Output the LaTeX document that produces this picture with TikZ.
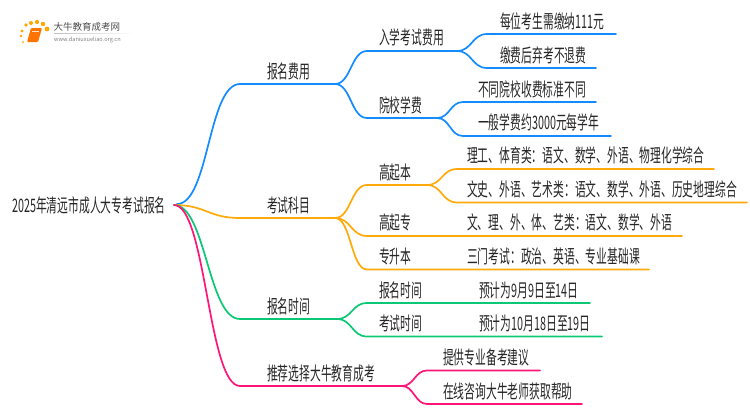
\documentclass[tikz,border=0pt]{standalone}
\usepackage{fontspec}
\setmainfont[FakeStretch=0.58]{Noto Sans CJK SC}
\newfontfamily\logofont{Noto Sans CJK SC}
\newcommand{\unitsize}{1pt}
\definecolor{limbblue}{RGB}{20,140,255}
\definecolor{limborange}{RGB}{255,170,10}
\definecolor{limbgreen}{RGB}{10,200,115}
\definecolor{limbpink}{RGB}{255,20,120}

\begin{document}
\begin{tikzpicture}
\useasboundingbox (0*\unitsize,0*\unitsize) rectangle (750*\unitsize,-410*\unitsize);
\tikzstyle{every node}=[inner sep=0pt,
			anchor=west,
			text=black!85,
			font=\fontsize{18.6}{19}\selectfont,
			text height=14pt,
			text depth=0pt
			]
\tikzstyle{limb}=[line width=1.7pt, line cap=round, out=0, in=180]
\tikzstyle{bluelimb}=[limb, limbblue]
\tikzstyle{orangelimb}=[limb, limborange]
\tikzstyle{greenlimb}=[limb, limbgreen]
\tikzstyle{pinklimb}=[limb, limbpink]
\tikzstyle{logotext}=[font=\logofont\fontsize{9.5}{10}\selectfont, text=black!70, text height=8pt, text depth=2pt]
\tikzstyle{logourl}=[font=\logofont\fontsize{5.6}{6}\selectfont, text=black!50, text height=5pt, text depth=1pt]

% logo
\foreach \dotx/\doty/\dotr in {23/42/1, 21/36/1.3, 22/31/1.6, 26/25/1.9, 31/23/2, 37/22/2.1, 43/24/2.2, 47/29/2.4}
    \fill[orange!70!yellow] (\dotx*\unitsize,-\doty*\unitsize) circle (\dotr*\unitsize);
\fill[orange!90!red, rounded corners=1pt] (31*\unitsize,-28*\unitsize) -- (42*\unitsize,-28*\unitsize) -- (38*\unitsize,-42*\unitsize) -- (27*\unitsize,-42*\unitsize) -- cycle;
\draw[white!80!orange, line width=0.6pt] (32*\unitsize,-31*\unitsize) -- (39*\unitsize,-31*\unitsize);
\shade[left color=black!25, right color=white] (54*\unitsize,-33.2*\unitsize) rectangle (134*\unitsize,-33.8*\unitsize);
\node[logotext] (logoname) at (53.5*\unitsize,-27*\unitsize) {大牛教育成考网};
\node[logourl] (logourl) at (54*\unitsize,-39*\unitsize) {www.daniuxueliao.org.cn};

% joints
\coordinate (rootb) at (177*\unitsize,-204*\unitsize);
\coordinate (root) at (174*\unitsize,-205*\unitsize);
\coordinate (feea) at (240*\unitsize,-84*\unitsize);
\coordinate (feeb) at (335*\unitsize,-84*\unitsize);
\coordinate (enterfeea) at (367*\unitsize,-51*\unitsize);
\coordinate (enterfeeb) at (457*\unitsize,-51*\unitsize);
\coordinate (payeacha) at (487*\unitsize,-34*\unitsize);
\coordinate (payeachb) at (616*\unitsize,-34*\unitsize);
\coordinate (norefunda) at (487*\unitsize,-68*\unitsize);
\coordinate (norefundb) at (596*\unitsize,-68*\unitsize);
\coordinate (tuitiona) at (367*\unitsize,-118*\unitsize);
\coordinate (tuitionb) at (437*\unitsize,-118*\unitsize);
\coordinate (differa) at (463*\unitsize,-102*\unitsize);
\coordinate (differb) at (596*\unitsize,-102*\unitsize);
\coordinate (yearlya) at (463*\unitsize,-136*\unitsize);
\coordinate (yearlyb) at (611*\unitsize,-136*\unitsize);
\coordinate (subjecta) at (240*\unitsize,-218*\unitsize);
\coordinate (subjectb) at (335*\unitsize,-218*\unitsize);
\coordinate (gqba) at (367*\unitsize,-185*\unitsize);
\coordinate (gqbb) at (427*\unitsize,-185*\unitsize);
\coordinate (sciencea) at (457*\unitsize,-169*\unitsize);
\coordinate (scienceb) at (714*\unitsize,-169*\unitsize);
\coordinate (artsa) at (457*\unitsize,-202.500000*\unitsize);
\coordinate (artsb) at (747*\unitsize,-202.500000*\unitsize);
\coordinate (gqza) at (367*\unitsize,-236*\unitsize);
\coordinate (gqzb) at (682*\unitsize,-236*\unitsize);
\coordinate (zsba) at (367*\unitsize,-269.500000*\unitsize);
\coordinate (zsbb) at (649*\unitsize,-269.500000*\unitsize);
\coordinate (timea) at (240*\unitsize,-319*\unitsize);
\coordinate (timeb) at (337*\unitsize,-319*\unitsize);
\coordinate (signupa) at (367*\unitsize,-303*\unitsize);
\coordinate (signupb) at (590*\unitsize,-303*\unitsize);
\coordinate (testa) at (367*\unitsize,-336.500000*\unitsize);
\coordinate (testb) at (602*\unitsize,-336.500000*\unitsize);
\coordinate (recoa) at (240*\unitsize,-386*\unitsize);
\coordinate (recob) at (402*\unitsize,-386*\unitsize);
\coordinate (advicea) at (427*\unitsize,-370.500000*\unitsize);
\coordinate (adviceb) at (540*\unitsize,-370.500000*\unitsize);
\coordinate (onlinea) at (427*\unitsize,-404*\unitsize);
\coordinate (onlineb) at (582*\unitsize,-404*\unitsize);

% limbs
\draw[bluelimb] (rootb) to[distance=32*\unitsize] (feea) -- (feeb);
\draw[bluelimb] (feeb) to[distance=16*\unitsize] (enterfeea) -- (enterfeeb);
\draw[bluelimb] (enterfeeb) to[distance=15*\unitsize] (payeacha) -- (payeachb);
\draw[bluelimb] (enterfeeb) to[distance=15*\unitsize] (norefunda) -- (norefundb);
\draw[bluelimb] (feeb) to[distance=16*\unitsize] (tuitiona) -- (tuitionb);
\draw[bluelimb] (tuitionb) to[distance=13*\unitsize] (differa) -- (differb);
\draw[bluelimb] (tuitionb) to[distance=13*\unitsize] (yearlya) -- (yearlyb);

\draw[orangelimb] (root) to[distance=32*\unitsize] (subjecta) -- (subjectb);
\draw[orangelimb] (subjectb) to[distance=16*\unitsize] (gqba) -- (gqbb);
\draw[orangelimb] (gqbb) to[distance=15*\unitsize] (sciencea) -- (scienceb);
\draw[orangelimb] (gqbb) to[distance=15*\unitsize] (artsa) -- (artsb);
\draw[orangelimb] (subjectb) to[distance=16*\unitsize] (gqza) -- (gqzb);
\draw[orangelimb] (subjectb) to[distance=16*\unitsize] (zsba) -- (zsbb);

\draw[greenlimb] (root) to[distance=32*\unitsize] (timea) -- (timeb);
\draw[greenlimb] (timeb) to[distance=15*\unitsize] (signupa) -- (signupb);
\draw[greenlimb] (timeb) to[distance=15*\unitsize] (testa) -- (testb);

\draw[pinklimb] (root) to[distance=32*\unitsize] (recoa) -- (recob);
\draw[pinklimb] (recob) to[distance=12*\unitsize] (advicea) -- (adviceb);
\draw[pinklimb] (recob) to[distance=12*\unitsize] (onlinea) -- (onlineb);

% labels
\node (roottext) at (12*\unitsize,-205*\unitsize) {2025年清远市成人大专考试报名};

\node (fee) at (267*\unitsize,-71*\unitsize) {报名费用};
\node (enterfee) at (379*\unitsize,-37*\unitsize) {入学考试费用};
\node (payeach) at (500*\unitsize,-21*\unitsize) {每位考生需缴纳111元};
\node (norefund) at (500*\unitsize,-55*\unitsize) {缴费后弃考不退费};
\node (tuition) at (379*\unitsize,-105*\unitsize) {院校学费};
\node (differ) at (478*\unitsize,-89*\unitsize) {不同院校收费标准不同};
\node (yearly) at (478*\unitsize,-122*\unitsize) {一般学费约3000元每学年};

\node (subject) at (267*\unitsize,-205*\unitsize) {考试科目};
\node (gqb) at (379*\unitsize,-172*\unitsize) {高起本};
\node (science) at (467*\unitsize,-155*\unitsize) {理工、体育类：语文、数学、外语、物理化学综合};
\node (arts) at (467*\unitsize,-189*\unitsize) {文史、外语、艺术类：语文、数学、外语、历史地理综合};
\node (gqz) at (379*\unitsize,-222*\unitsize) {高起专};
\node (gqzsub) at (467*\unitsize,-222*\unitsize) {文、理、外、体、艺类：语文、数学、外语};
\node (zsb) at (379*\unitsize,-256*\unitsize) {专升本};
\node (zsbsub) at (467*\unitsize,-256*\unitsize) {三门考试：政治、英语、专业基础课};

\node (time) at (267*\unitsize,-306*\unitsize) {报名时间};
\node (signup) at (379*\unitsize,-290*\unitsize) {报名时间};
\node (signupday) at (479*\unitsize,-290*\unitsize) {预计为9月9日至14日};
\node (test) at (379*\unitsize,-323*\unitsize) {考试时间};
\node (testday) at (479*\unitsize,-323*\unitsize) {预计为10月18日至19日};

\node (reco) at (267*\unitsize,-373*\unitsize) {推荐选择大牛教育成考};
\node (advice) at (443*\unitsize,-357*\unitsize) {提供专业备考建议};
\node (online) at (443*\unitsize,-391*\unitsize) {在线咨询大牛老师获取帮助};

\end{tikzpicture}
\end{document}
